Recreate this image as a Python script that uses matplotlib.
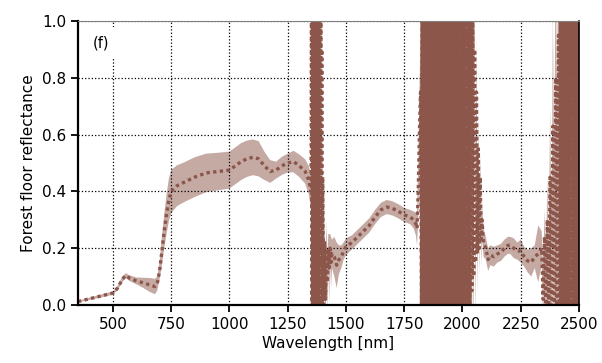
import numpy as np
import matplotlib
matplotlib.use('Agg')
from matplotlib import pyplot as plt

# smooth part, VIS-NIR
wl_a = [350, 400, 450, 500, 520, 540, 555, 570, 600, 630, 660, 680, 690, 700, 710, 720,
        730, 740, 750, 775, 800, 850, 900, 950, 1000, 1025, 1050, 1075, 1100, 1125, 1150,
        1175, 1200, 1225, 1250, 1275, 1300, 1325, 1340, 1350]
mean_a = [0.012, 0.022, 0.032, 0.042, 0.06, 0.09, 0.104, 0.095, 0.085, 0.078, 0.07, 0.065,
          0.075, 0.12, 0.19, 0.26, 0.32, 0.37, 0.40, 0.42, 0.43, 0.45, 0.465, 0.47, 0.475,
          0.49, 0.505, 0.515, 0.52, 0.515, 0.49, 0.47, 0.475, 0.49, 0.50, 0.505, 0.49, 0.47,
          0.44, 0.40]
std_a = [0.003, 0.004, 0.005, 0.006, 0.008, 0.01, 0.008, 0.01, 0.012, 0.018, 0.025, 0.027,
         0.025, 0.03, 0.05, 0.06, 0.07, 0.075, 0.076, 0.072, 0.07, 0.07, 0.068, 0.066, 0.065,
         0.065, 0.065, 0.064, 0.063, 0.062, 0.05, 0.04, 0.03, 0.032, 0.033, 0.038, 0.04, 0.043,
         0.05, 0.06]

# water band ~1400 nm (2 nm sampling), values run off the axis
wl_b = np.arange(1352, 1401, 2)
mean_b = [1.03, -0.05, 1.06, -0.12, 1.01, -0.08, 1.05, -0.02, 1.04, -0.14,
          1.02, -0.06, 1.06, -0.1, 1.0, -0.03, 1.05, -0.13, 1.03, -0.07,
          1.02, -0.04, 0.9, -0.09, 0.45]
std_b = [0.6, 0.7, 0.8, 0.8, 0.9, 0.9, 0.9, 0.9, 0.9, 0.9,
         0.9, 0.9, 0.9, 0.9, 0.9, 0.9, 0.9, 0.8, 0.8, 0.7,
         0.6, 0.5, 0.4, 0.3, 0.2]

# SWIR 1
wl_c = [1404, 1408, 1412, 1416, 1420, 1424, 1428, 1432, 1436, 1440, 1450, 1460, 1470, 1480,
        1490, 1500, 1525, 1550, 1575, 1600, 1625, 1650, 1675, 1700, 1725, 1750, 1775, 1790,
        1800, 1805, 1810, 1815, 1820]
mean_c = [0.0, 0.22, 0.02, 0.2, 0.08, 0.19, 0.13, 0.2, 0.15, 0.18, 0.17, 0.14, 0.16, 0.17,
          0.19, 0.205, 0.22, 0.24, 0.26, 0.28, 0.31, 0.335, 0.345, 0.34, 0.33, 0.317, 0.31,
          0.30, 0.285, 0.27, 0.4, 0.6, 0.75]
std_c = [0.1, 0.1, 0.12, 0.09, 0.1, 0.06, 0.12, 0.05, 0.09, 0.05, 0.07, 0.08, 0.05, 0.04,
         0.03, 0.03, 0.025, 0.025, 0.025, 0.025, 0.025, 0.025, 0.025, 0.025, 0.025, 0.025,
         0.025, 0.03, 0.04, 0.06, 0.1, 0.15, 0.2]

# water band ~1900 nm (2 nm sampling)
wl_d = np.arange(1824, 2033, 2)
mean_d = [-0.05, 1.03, -0.12, 1.06, -0.02, 1.01, -0.09, 1.05, -0.14, 1.02,
          -0.06, 1.04, -0.1, 1.0, -0.03, 1.06, -0.13, 1.03, -0.07, 1.05,
          -0.01, 1.02, -0.11, 1.04, -0.08, 1.06, -0.04, 1.01, -0.12, 1.03,
          -0.06, 1.05, -0.14, 1.02, -0.02, 1.04, -0.09, 1.0, -0.05, 1.06,
          -0.1, 1.03, -0.03, 1.05, -0.13, 1.01, -0.07, 1.04, -0.11, 1.02,
          -0.04, 1.06, -0.08, 1.03, -0.01, 1.05, -0.12, 1.02, -0.06, 1.04,
          -0.14, 1.01, -0.05, 1.06, -0.09, 1.03, -0.02, 1.05, -0.1, 1.0,
          -0.07, 1.04, -0.13, 1.02, -0.03, 1.06, -0.11, 1.03, -0.08, 1.05,
          -0.04, 1.01, -0.12, 1.04, -0.06, 1.02, -0.14, 1.06, -0.01, 1.03,
          -0.09, 1.05, -0.05, 1.0, -0.1, 1.04, -0.02, 1.02, -0.13, 1.06,
          -0.07, 1.03, -0.08, 1.01, -0.15]
std_d = [0.6, 0.8, 0.9, 1.0, 1.0, 1.0, 1.0, 1.0, 1.0, 1.0,
         1.0, 1.0, 1.0, 1.0, 1.0, 1.0, 1.0, 1.0, 1.0, 1.0,
         1.0, 1.0, 1.0, 1.0, 1.0, 1.0, 1.0, 1.0, 1.0, 1.0,
         1.0, 1.0, 1.0, 1.0, 1.0, 1.0, 1.0, 1.0, 1.0, 1.0,
         1.0, 1.0, 1.0, 1.0, 1.0, 1.0, 1.0, 1.0, 1.0, 1.0,
         1.0, 1.0, 1.0, 1.0, 1.0, 1.0, 1.0, 1.0, 1.0, 1.0,
         1.0, 1.0, 1.0, 1.0, 1.0, 1.0, 1.0, 1.0, 1.0, 1.0,
         1.0, 1.0, 1.0, 1.0, 1.0, 1.0, 1.0, 1.0, 1.0, 1.0,
         1.0, 1.0, 1.0, 1.0, 1.0, 1.0, 1.0, 1.0, 1.0, 1.0,
         1.0, 1.0, 1.0, 1.0, 1.0, 1.0, 1.0, 1.0, 1.0, 1.0,
         1.0, 0.9, 0.8, 0.7, 0.6]

# SWIR 2
wl_e = [2036, 2040, 2044, 2048, 2052, 2056, 2060, 2064, 2068, 2072, 2076, 2080, 2084, 2090,
        2100, 2110, 2120, 2135, 2150, 2165, 2180, 2195, 2205, 2220, 2235, 2250, 2265, 2280,
        2295, 2310, 2325, 2340]
mean_e = [1.05, 0.05, 1.02, 0.1, 0.9, 0.15, 0.75, 0.18, 0.55, 0.2, 0.45, 0.22, 0.3, 0.22,
          0.2, 0.16, 0.175, 0.17, 0.18, 0.185, 0.2, 0.21, 0.21, 0.2, 0.19, 0.19, 0.17, 0.155,
          0.15, 0.17, 0.18, 0.2]
std_e = [0.6, 0.5, 0.45, 0.35, 0.3, 0.25, 0.2, 0.15, 0.12, 0.1, 0.08, 0.08, 0.06, 0.05,
         0.04, 0.04, 0.035, 0.035, 0.03, 0.03, 0.03, 0.03, 0.03, 0.035, 0.03, 0.04, 0.035,
         0.04, 0.05, 0.04, 0.1, 0.06]

# onset of water band ~2450 nm
wl_f = [2346, 2352, 2358, 2364, 2370, 2376, 2382, 2388, 2394, 2400, 2406, 2412, 2418]
mean_f = [0.02, 0.24, 0.0, 0.3, -0.03, 0.45, -0.06, 0.63, -0.1, 0.8, -0.12, 0.95, -0.08]
std_f = [0.08, 0.1, 0.12, 0.15, 0.2, 0.25, 0.3, 0.4, 0.5, 0.6, 0.7, 0.8, 0.9]

# water band ~2450 nm (2 nm sampling)
wl_g = np.arange(2420, 2501, 2)
mean_g = [1.03, -0.06, 1.05, -0.11, 1.01, -0.03, 1.06, -0.13, 1.02, -0.08,
          1.04, -0.02, 1.0, -0.1, 1.05, -0.05, 1.03, -0.14, 1.06, -0.07,
          1.02, -0.04, 1.04, -0.12, 1.01, -0.09, 1.06, -0.01, 1.03, -0.11,
          1.05, -0.06, 1.02, -0.13, 1.04, -0.03, 1.0, -0.08, 1.06, -0.05,
          1.03]
std_g = [1.0, 1.0, 1.0, 1.0, 1.0, 1.0, 1.0, 1.0, 1.0, 1.0,
         1.0, 1.0, 1.0, 1.0, 1.0, 1.0, 1.0, 1.0, 1.0, 1.0,
         1.0, 1.0, 1.0, 1.0, 1.0, 1.0, 1.0, 1.0, 1.0, 1.0,
         1.0, 1.0, 1.0, 1.0, 1.0, 1.0, 1.0, 1.0, 1.0, 1.0,
         1.0]

wavelength = np.concatenate([wl_a, wl_b, wl_c, wl_d, wl_e, wl_f, wl_g]).astype(float)
refl_mean = np.array(mean_a + mean_b + mean_c + mean_d + mean_e + mean_f + mean_g)
refl_std = np.array(std_a + std_b + std_c + std_d + std_e + std_f + std_g)

fig = plt.figure(figsize=(6.02, 3.63), dpi=100)
ax = fig.add_axes([0.1296, 0.1598, 0.8322, 0.7823])

ax.fill_between(wavelength, refl_mean - refl_std, refl_mean + refl_std,
                color='tab:brown', alpha=0.5, lw=0)
ax.plot(wavelength, refl_mean, color='tab:brown', ls=(0, (1, 1)), lw=2.4)

ax.set_xlim(350, 2500)
ax.set_ylim(0, 1)
ax.set_xticks([500, 750, 1000, 1250, 1500, 1750, 2000, 2250, 2500])
ax.set_yticks([0.0, 0.2, 0.4, 0.6, 0.8, 1.0])
ax.grid(True, color='k', ls=':', lw=0.9)
ax.tick_params(labelsize=11, length=5, width=1.3)
ax.set_xlabel('Wavelength [nm]', fontsize=11, labelpad=3)
ax.set_ylabel('Forest floor reflectance', fontsize=11)

ax.spines['left'].set_linewidth(1.6)
ax.spines['bottom'].set_linewidth(1.6)
ax.spines['right'].set_linewidth(1.2)
ax.spines['top'].set_linewidth(0.8)
ax.spines['top'].set_color('0.5')

ax.text(0.03, 0.95, '(f)', transform=ax.transAxes, fontsize=10.5, va='top', ha='left',
        bbox=dict(facecolor='white', edgecolor='none', pad=6))

fig.savefig('out.png', dpi=100)
